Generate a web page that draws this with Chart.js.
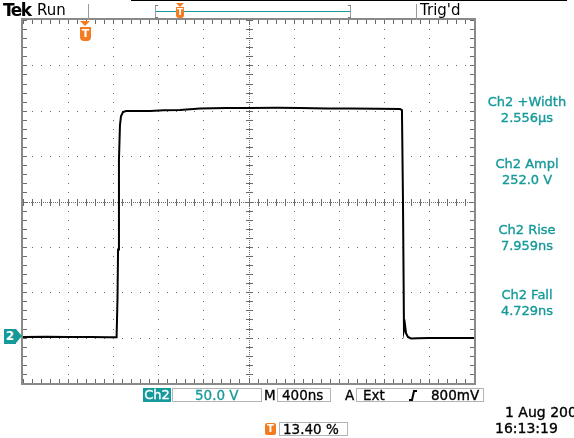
<!DOCTYPE html>
<html>
<head>
<meta charset="utf-8">
<script src="https://cdn.jsdelivr.net/npm/chart.js@4/dist/chart.umd.min.js"></script>
<style>
    body { margin: 0; background: #fff; }
    #wrap { position: relative; width: 574px; height: 438px; overflow: hidden; background: #fff;
            font-family: "DejaVu Sans", Verdana, sans-serif; }
    #scope { position: absolute; left: 0; top: 0; }
    .txt { position: absolute; white-space: nowrap; line-height: 1; }
    .med { -webkit-text-stroke: 0.35px currentColor; }
    .teal { color: #16999a; }
    .meas { position: absolute; left: 478px; width: 98px; text-align: center; font-size: 13px;
            color: #16999a; line-height: 16px; -webkit-text-stroke: 0.35px currentColor; }
    .box { position: absolute; border: 1px solid #b4b4b4; height: 13px; font-size: 13.5px;
           line-height: 13px; box-sizing: border-box; -webkit-text-stroke: 0.3px currentColor; }
    .vline { position: absolute; width: 1px; background: #9a9a9a; }
    .tag { position: absolute; background: #f47c20; color: #fff; font-weight: bold; font-size: 10px;
           text-align: center; line-height: 12px; }
</style>
</head>
<body>
<div id="wrap">
    <canvas id="scope" width="574" height="438"></canvas>

    <!-- header -->
    <div class="txt" style="left:131px;top:0;width:436px;height:1px;background:#000"></div>
    <div class="txt" style="left:3px;top:2px;font-size:17px;font-weight:bold;letter-spacing:-1.5px">Tek</div>
    <div class="txt" style="left:37px;top:3px;font-size:15px">Run</div>
    <div class="vline" style="left:88px;top:4px;height:16px"></div>
    <div class="vline" style="left:155px;top:5px;height:13px"></div>
    <div class="vline" style="left:350px;top:5px;height:13px"></div>
    <div class="txt" style="left:155px;top:5px;width:3px;height:1px;background:#777"></div>
    <div class="txt" style="left:155px;top:17px;width:3px;height:1px;background:#777"></div>
    <div class="txt" style="left:348px;top:5px;width:3px;height:1px;background:#777"></div>
    <div class="txt" style="left:348px;top:17px;width:3px;height:1px;background:#777"></div>
    <div class="txt" style="left:156px;top:11px;width:194px;height:1px;background:#16999a"></div>
    <div class="txt" style="left:176px;top:3px;width:0;height:0;border-left:4px solid transparent;border-right:4px solid transparent;border-top:4px solid #f47c20"></div>
    <div class="tag" style="left:176px;top:7px;width:8px;height:11px;border-radius:0 0 3px 3px;font-size:9px;line-height:11px">T</div>
    <div class="vline" style="left:416px;top:4px;height:16px"></div>
    <div class="txt" style="left:420px;top:3px;font-size:15px">Trig'd</div>

    <!-- trigger position marker -->
    <div class="txt" style="left:80px;top:21px;width:0;height:0;border-left:5px solid transparent;border-right:5px solid transparent;border-top:5px solid #f47c20"></div>
    <div class="tag" style="left:80px;top:27px;width:11px;height:14px;border-radius:0 0 4px 4px;line-height:14px;font-size:11px">T</div>

    <!-- channel ground marker -->
    <div class="txt" style="left:4px;top:329px;width:12px;height:15px;background:#16999a;color:#fff;font-weight:bold;font-size:12px;line-height:15px;text-align:center">2</div>
    <div class="txt" style="left:16px;top:329px;width:0;height:0;border-top:7.5px solid transparent;border-bottom:7.5px solid transparent;border-left:6px solid #16999a"></div>

    <!-- measurements -->
    <div class="meas" style="top:94px">Ch2 +Width<br>2.556µs</div>
    <div class="meas" style="top:156px">Ch2 Ampl<br>252.0 V</div>
    <div class="meas" style="top:222px">Ch2 Rise<br>7.959ns</div>
    <div class="meas" style="top:287px">Ch2 Fall<br>4.729ns</div>

    <!-- bottom readouts -->
    <div class="txt med" style="left:143px;top:388px;width:28px;height:14px;background:#16999a;color:#fff;font-size:13px;line-height:14px;text-align:center">Ch2</div>
    <div class="box teal" style="left:172px;top:388px;width:90px;height:14px;padding-left:22px">50.0 V</div>
    <div class="txt med" style="left:264px;top:389px;font-size:13.5px">M</div>
    <div class="box" style="left:277px;top:388px;width:54px;height:14px;padding-left:4px">400ns</div>
    <div class="txt med" style="left:345px;top:389px;font-size:13.5px">A</div>
    <div class="box" style="left:356px;top:388px;width:128px;height:14px;padding-left:6px">Ext</div>
    <svg class="txt" style="left:408px;top:390px" width="10" height="11"><path d="M1 10 L4 10 L6 1 L9 1" stroke="#000" stroke-width="2" fill="none"/></svg>
    <div class="txt med" style="left:431px;top:389px;font-size:13.5px">800mV</div>

    <div class="txt med" style="left:505px;top:405px;font-size:14px">1 Aug 200</div>
    <div class="txt med" style="left:495px;top:421px;font-size:14px">16:13:19</div>
    <div class="tag" style="left:265px;top:423px;width:11px;height:12px;border-radius:2px">T</div>
    <div class="box" style="left:279px;top:422px;width:69px;height:14px;padding-left:3px">13.40 %</div>
</div>

<script>
// Ch2 trace: time in ns (400 ns/div), volts (50 V/div)
const timeNs = [-2000, -1800, -1600, -1400, -1250, -1170, -1162, -1157, -1149, -1140, -1131,
    -1113, -1086, -1000, -874, -750, -607, -430, -200, 13, 250, 457, 700, 900, 1150, 1344,
    1361, 1370, 1379, 1388, 1397, 1414, 1441, 1500, 1600, 1787, 2000];
const voltsCh2 = [-149.2, -149, -149.4, -149.2, -149.5, -149.5, -108, -53, 46, 84, 94,
    98.6, 99.7, 99.7, 99.7, 100.5, 100.8, 102.4, 103, 103, 103.2, 103, 102.6, 102.4, 102.2, 101.9,
    100.8, 1.7, -141.5, -136, -145, -149.2, -150.9, -150.6, -150.3, -150.3, -150.3];

// graticule: 10 x 8 divisions, 5 minor steps per division
const timeRange = [-2000, 2000];
const voltRange = [-200, 200];
const timePerDiv = 400;
const voltsPerDiv = 50;
const minorPerDiv = 5;

const graticule = {
    id: 'graticule',
    beforeDatasetsDraw(chart) {
        const { ctx, chartArea: a, scales: { x, y } } = chart;
        const xMajor = [], yMajor = [], xMinor = [], yMinor = [];
        for (let t = timeRange[0]; t <= timeRange[1]; t += timePerDiv) xMajor.push(t);
        for (let v = voltRange[0]; v <= voltRange[1]; v += voltsPerDiv) yMajor.push(v);
        for (let t = timeRange[0]; t <= timeRange[1]; t += timePerDiv / minorPerDiv) xMinor.push(t);
        for (let v = voltRange[0]; v <= voltRange[1]; v += voltsPerDiv / minorPerDiv) yMinor.push(v);

        ctx.save();
        ctx.fillStyle = '#6a6a6a';
        const dot = (px, py) => ctx.fillRect(Math.round(px), Math.round(py), 1, 1);

        // dotted major lines
        xMajor.slice(1, -1).forEach(t => yMinor.forEach(v => dot(x.getPixelForValue(t), y.getPixelForValue(v))));
        yMajor.slice(1, -1).forEach(v => xMinor.forEach(t => dot(x.getPixelForValue(t), y.getPixelForValue(v))));

        // centre cross with fine dots and ticks
        const cx = Math.round(x.getPixelForValue(0));
        const cy = Math.round(y.getPixelForValue(0));
        for (let px = a.left; px <= a.right; px += 2) dot(px, cy);
        for (let py = a.top; py <= a.bottom; py += 2) dot(cx, py);
        xMinor.forEach(t => ctx.fillRect(Math.round(x.getPixelForValue(t)), cy - 3, 1, 7));
        yMinor.forEach(v => ctx.fillRect(cx - 3, Math.round(y.getPixelForValue(v)), 7, 1));

        // border with inward ticks
        xMinor.forEach(t => {
            const px = Math.round(x.getPixelForValue(t));
            ctx.fillRect(px, a.top, 1, 4);
            ctx.fillRect(px, a.bottom - 4, 1, 4);
        });
        yMinor.forEach(v => {
            const py = Math.round(y.getPixelForValue(v));
            ctx.fillRect(a.left, py, 4, 1);
            ctx.fillRect(a.right - 4, py, 4, 1);
        });
        ctx.strokeStyle = '#8a8a8a';
        ctx.lineWidth = 2;
        ctx.strokeRect(a.left - 1, a.top - 1, a.right - a.left + 2, a.bottom - a.top + 2);
        ctx.restore();
    }
};

new Chart(document.getElementById('scope'), {
    type: 'scatter',
    data: {
        datasets: [{
            label: 'Ch2',
            data: timeNs.map((t, i) => ({ x: t, y: voltsCh2[i] })),
            showLine: true,
            borderColor: '#000',
            borderWidth: 2,
            pointRadius: 0,
            tension: 0
        }]
    },
    options: {
        responsive: false,
        animation: false,
        layout: { padding: { left: 23, top: 20, right: 100, bottom: 55 } },
        plugins: { legend: { display: false }, tooltip: { enabled: false } },
        scales: {
            x: { type: 'linear', min: timeRange[0], max: timeRange[1], display: false },
            y: { type: 'linear', min: voltRange[0], max: voltRange[1], display: false }
        }
    },
    plugins: [graticule]
});
</script>
</body>
</html>
